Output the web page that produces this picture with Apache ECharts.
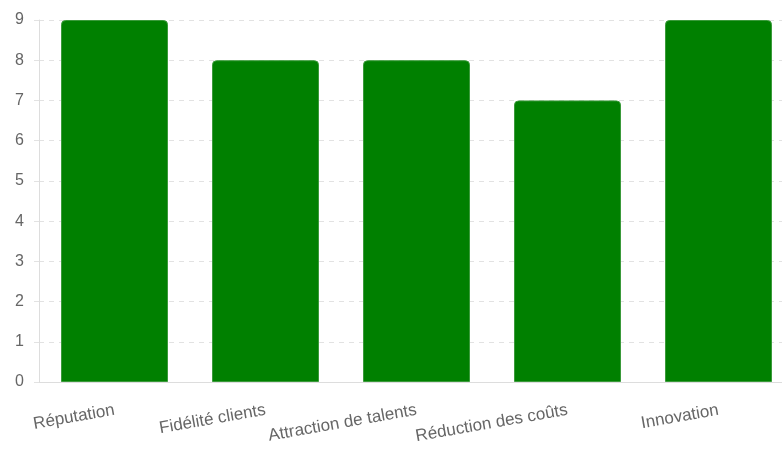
<!DOCTYPE html>
<html><head><meta charset="utf-8">
<script src="https://cdn.jsdelivr.net/npm/echarts@6/dist/echarts.min.js"></script>
<style>html,body{margin:0;padding:0;background:#fff}#c{width:782px;height:450px}</style>
</head><body><div id="c"></div>
<script>
const categories = ["Réputation", "Fidélité clients", "Attraction de talents", "Réduction des coûts", "Innovation"];
const values = [9, 8, 8, 7, 9];
const yTicks = [0, 1, 2, 3, 4, 5, 6, 7, 8, 9];

const chart = echarts.init(document.getElementById('c'), null, {renderer: 'canvas'});
chart.setOption({
  animation: false,
  grid: {left: 39, width: 755, top: 20, bottom: 68, containLabel: false, outerBoundsMode: 'none'},
  xAxis: {
    type: 'category',
    data: categories,
    axisLine: {show: true, lineStyle: {color: '#dddddd', width: 1}},
    axisTick: {show: false},
    axisLabel: {rotate: 10, margin: 28, color: '#666666', fontSize: 17, fontFamily: 'Liberation Sans, Arial, sans-serif', interval: 0, hideOverlap: false}
  },
  yAxis: {
    type: 'value',
    min: 0, max: 9, interval: 1,
    axisLine: {show: true, lineStyle: {color: '#dddddd', width: 1}},
    axisTick: {show: true, length: 10, lineStyle: {color: '#e2e2e2', type: [5, 5]}},
    axisLabel: {margin: 15, color: '#666666', fontSize: 16, fontFamily: 'Liberation Sans, Arial, sans-serif',
      formatter: v => yTicks.includes(v) ? String(v) : ''},
    splitLine: {show: true, lineStyle: {color: '#e2e2e2', type: [5, 5], width: 1}}
  },
  series: [{
    type: 'bar',
    data: values,
    barWidth: 107,
    itemStyle: {color: '#008000', borderColor: '#3a9a3a', borderWidth: 1, borderRadius: [4, 4, 0, 0]}
  }]
});
</script></body></html>
